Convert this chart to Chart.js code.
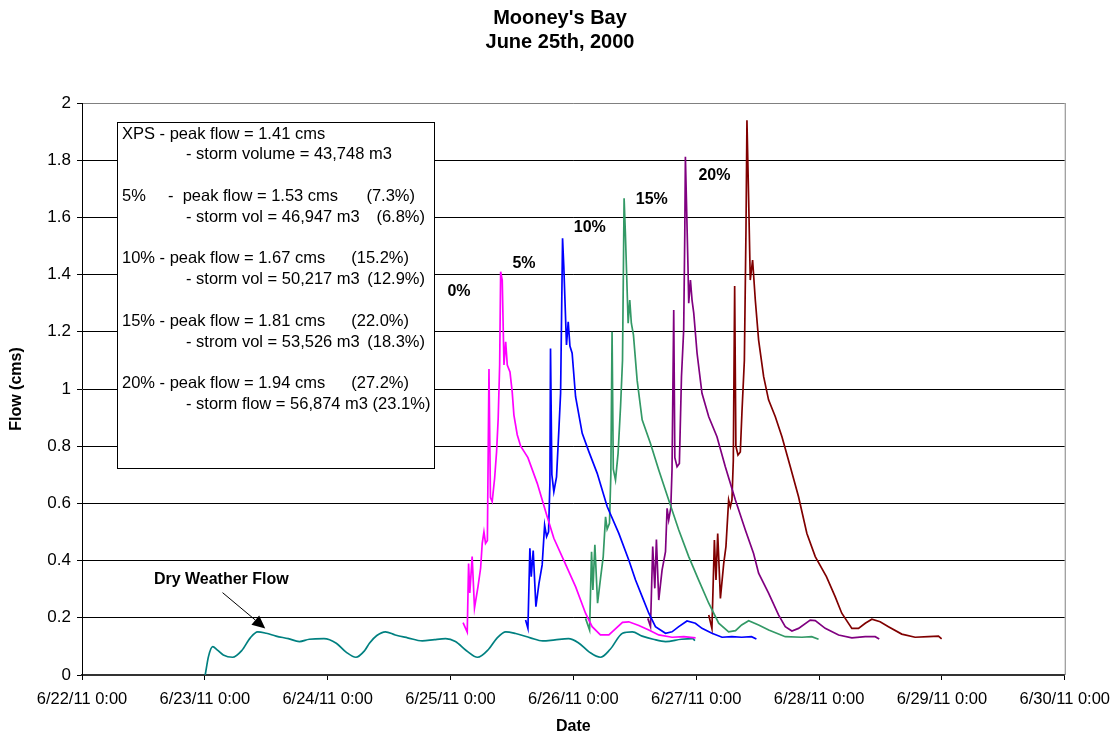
<!DOCTYPE html>
<html><head><meta charset="utf-8">
<script src="https://cdn.jsdelivr.net/npm/chart.js@4.4.1/dist/chart.umd.min.js"></script>
<style>html,body{margin:0;padding:0;background:#fff;}canvas{display:block;}</style>
</head><body>
<canvas id="c" width="1120" height="736"></canvas>
<script>
// ---- tick labels ----
const xTickLabels = ['6/22/11 0:00','6/23/11 0:00','6/24/11 0:00','6/25/11 0:00','6/26/11 0:00','6/27/11 0:00','6/28/11 0:00','6/29/11 0:00','6/30/11 0:00'];
const yTickLabels = ['0','0.2','0.4','0.6','0.8','1','1.2','1.4','1.6','1.8','2'];
const titleLines = ["Mooney's Bay", 'June 25th, 2000'];

// ---- series (time = days since 6/22/11 0:00, flow in cms) ----
const dwfTime = [1.003,1.03,1.064,1.10,1.15,1.226,1.30,1.37,1.43,1.50,1.58,1.68,1.77,1.85,1.97,2.07,2.15,2.23,2.30,2.34,2.40,2.47,2.55,2.65,2.77,2.87,2.96,3.04,3.13,3.22,3.31,3.38,3.45,3.53,3.65,3.75,3.85,3.96,4.04,4.13,4.22,4.30,4.40,4.48,4.56,4.65,4.75,4.88,4.97,4.99];
const dwfFlow = [0,0.065,0.099,0.088,0.07,0.062,0.085,0.13,0.151,0.146,0.136,0.127,0.117,0.125,0.127,0.111,0.08,0.062,0.085,0.111,0.138,0.151,0.14,0.13,0.119,0.124,0.127,0.117,0.085,0.062,0.09,0.13,0.151,0.145,0.13,0.119,0.123,0.127,0.113,0.08,0.062,0.09,0.146,0.151,0.136,0.125,0.117,0.125,0.127,0.12];

const xpsTime = [3.102,3.136,3.147,3.157,3.176,3.195,3.224,3.245,3.258,3.272,3.285,3.300,3.313,3.325,3.339,3.359,3.375,3.388,3.400,3.408,3.421,3.435,3.449,3.462,3.484,3.502,3.516,3.543,3.571,3.630,3.706,3.787,3.841,3.923,4.018,4.099,4.153,4.220,4.289,4.340,4.400,4.451,4.533,4.614,4.695,4.803,4.900,4.995];
const xpsFlow = [0.183,0.150,0.390,0.287,0.414,0.234,0.310,0.374,0.460,0.500,0.460,0.470,1.070,0.620,0.606,0.688,0.781,0.897,1.084,1.410,1.380,1.084,1.165,1.084,1.060,0.990,0.909,0.840,0.800,0.760,0.670,0.553,0.478,0.400,0.309,0.216,0.169,0.140,0.140,0.160,0.184,0.186,0.173,0.157,0.140,0.132,0.134,0.130];

const p5Time = [3.611,3.630,3.646,3.657,3.673,3.695,3.720,3.746,3.766,3.782,3.798,3.809,3.814,3.825,3.841,3.863,3.882,3.896,3.912,3.922,3.944,3.958,3.972,3.990,4.018,4.072,4.126,4.194,4.275,4.370,4.451,4.506,4.560,4.614,4.668,4.750,4.803,4.858,4.925,4.993,5.047,5.128,5.210,5.290,5.370,5.450,5.490];
const p5Flow = [0.192,0.163,0.443,0.344,0.435,0.239,0.320,0.385,0.524,0.484,0.501,0.670,1.142,0.700,0.641,0.693,0.857,0.985,1.527,1.430,1.154,1.235,1.150,1.125,0.973,0.845,0.781,0.705,0.589,0.495,0.402,0.332,0.274,0.216,0.169,0.146,0.151,0.169,0.189,0.181,0.163,0.146,0.132,0.134,0.132,0.134,0.126];

const p10Time = [4.099,4.132,4.148,4.159,4.175,4.197,4.221,4.243,4.262,4.275,4.294,4.305,4.315,4.325,4.343,4.364,4.384,4.400,4.413,4.423,4.446,4.459,4.472,4.489,4.519,4.560,4.627,4.695,4.776,4.858,4.939,5.020,5.102,5.183,5.264,5.320,5.370,5.427,5.508,5.590,5.725,5.860,5.940,5.996];
const p10Flow = [0.198,0.157,0.431,0.297,0.455,0.251,0.338,0.414,0.553,0.510,0.530,0.700,1.200,0.720,0.682,0.775,0.938,1.100,1.667,1.550,1.230,1.311,1.230,1.189,1.031,0.892,0.810,0.717,0.612,0.507,0.414,0.332,0.251,0.181,0.151,0.155,0.175,0.190,0.175,0.157,0.134,0.132,0.134,0.125];

const p15Time = [4.606,4.628,4.646,4.663,4.676,4.695,4.722,4.750,4.763,4.776,4.793,4.803,4.817,4.826,4.844,4.863,4.880,4.898,4.907,4.912,4.933,4.939,4.953,4.966,4.980,5.007,5.047,5.102,5.169,5.237,5.319,5.400,5.467,5.508,5.589,5.670,5.725,5.779,5.833,5.928,5.969,6.050,6.159,6.267,6.376,6.457,6.490];
const p15Flow = [0.198,0.169,0.449,0.303,0.474,0.262,0.367,0.431,0.583,0.542,0.583,0.717,1.276,0.760,0.728,0.740,1.043,1.206,1.544,1.812,1.428,1.300,1.381,1.311,1.265,1.125,0.985,0.903,0.833,0.728,0.612,0.507,0.425,0.356,0.286,0.210,0.169,0.154,0.163,0.192,0.190,0.163,0.140,0.130,0.134,0.134,0.126];

const p20Time = [5.102,5.128,5.148,5.161,5.175,5.197,5.224,5.242,5.264,5.278,5.291,5.302,5.313,5.323,5.340,5.359,5.372,5.392,5.405,5.413,5.427,5.440,5.459,5.481,5.508,5.549,5.589,5.644,5.698,5.766,5.833,5.901,5.969,6.060,6.131,6.185,6.267,6.321,6.376,6.430,6.497,6.565,6.673,6.782,6.890,6.972,6.998];
const p20Flow = [0.210,0.163,0.472,0.332,0.495,0.268,0.390,0.449,0.612,0.588,0.612,0.750,1.360,0.800,0.769,0.780,0.915,1.100,1.550,1.940,1.660,1.381,1.451,1.311,1.171,1.043,0.962,0.903,0.833,0.728,0.623,0.495,0.414,0.344,0.274,0.216,0.163,0.163,0.181,0.195,0.186,0.169,0.143,0.132,0.134,0.136,0.126];

// ---- annotation texts ----
const pctLabels = ['0%','5%','10%','15%','20%'];
const dwfLabel = 'Dry Weather Flow';
const boxText = [
  ['XPS - peak flow = 1.41 cms'],
  ['- storm volume = 43,748 m3'],
  ['5%','-  peak flow = 1.53 cms','(7.3%)'],
  ['- storm vol = 46,947 m3','(6.8%)'],
  ['10% - peak flow = 1.67 cms','(15.2%)'],
  ['- storm vol = 50,217 m3','(12.9%)'],
  ['15% - peak flow = 1.81 cms','(22.0%)'],
  ['- strom vol = 53,526 m3','(18.3%)'],
  ['20% - peak flow = 1.94 cms','(27.2%)'],
  ['- storm flow = 56,874 m3 (23.1%)']
];

// ---- layout / style (not data) ----
const FONT = '"Liberation Sans", Arial, sans-serif';
const pctAnchors = [[3.069,1.339],[3.598,1.44],[4.134,1.563],[4.638,1.661],[5.148,1.745]];
const boxRows = [0,1,3,4,6,7,9,10,12,13];
// [x, align] per segment; parentheticals are right-aligned
const boxSegPos = [
  [[122,'left']],
  [[186,'left']],
  [[122,'left'],[168,'left'],[415,'right']],
  [[186,'left'],[425,'right']],
  [[122,'left'],[409,'right']],
  [[186,'left'],[425,'right']],
  [[122,'left'],[409,'right']],
  [[186,'left'],[425,'right']],
  [[122,'left'],[409,'right']],
  [[186,'left']]
];

function pts(t, v){ return t.map((d,i)=>({x:d, y:v[i]})); }
function ds(label, t, v, color, smooth){
  return {label, data: pts(t,v), borderColor: color, backgroundColor: color, borderWidth: 1.7,
    pointRadius: 0, fill: false, tension: smooth ? 0.4 : 0, cubicInterpolationMode: smooth ? 'monotone' : 'default'};
}

const annotate = {
  id: 'annotate',
  afterDraw(chart){
    const {ctx, chartArea: a, scales: {x, y}} = chart;
    ctx.save();
    ctx.strokeStyle = '#808080'; ctx.lineWidth = 1;
    ctx.beginPath(); ctx.moveTo(a.right + 0.5, a.top); ctx.lineTo(a.right + 0.5, a.bottom); ctx.stroke();
    ctx.fillStyle = '#000'; ctx.textAlign = 'center'; ctx.textBaseline = 'middle';
    ctx.font = 'bold 20px ' + FONT;
    ctx.fillText(titleLines[0], 560, 18.5);
    ctx.fillText(titleLines[1], 560, 42);
    ctx.font = 'bold 16px ' + FONT;
    pctLabels.forEach((t, i) => ctx.fillText(t, x.getPixelForValue(pctAnchors[i][0]), y.getPixelForValue(pctAnchors[i][1])));
    ctx.fillText(dwfLabel, x.getPixelForValue(1.134), y.getPixelForValue(0.332));
    const sx = x.getPixelForValue(1.144), sy = y.getPixelForValue(0.288);
    const tx = x.getPixelForValue(1.492), ty = y.getPixelForValue(0.163);
    const ang = Math.atan2(ty - sy, tx - sx), L = 13, W = 6;
    const bx = tx - L * Math.cos(ang), by = ty - L * Math.sin(ang);
    ctx.strokeStyle = '#000'; ctx.lineWidth = 1;
    ctx.beginPath(); ctx.moveTo(sx, sy); ctx.lineTo(bx, by); ctx.stroke();
    ctx.beginPath(); ctx.moveTo(tx, ty);
    ctx.lineTo(bx + W * Math.sin(ang), by - W * Math.cos(ang));
    ctx.lineTo(bx - W * Math.sin(ang), by + W * Math.cos(ang));
    ctx.closePath(); ctx.fillStyle = '#000'; ctx.fill();
    // text box
    ctx.fillStyle = '#fff'; ctx.fillRect(117.5, 122.5, 317, 346);
    ctx.strokeStyle = '#000'; ctx.strokeRect(117.5, 122.5, 317, 346);
    ctx.fillStyle = '#000'; ctx.font = '16.5px ' + FONT;
    boxText.forEach((segs, r) => {
      const yy = 134 + boxRows[r] * 20.8;
      segs.forEach((s, k) => { ctx.textAlign = boxSegPos[r][k][1]; ctx.fillText(s, boxSegPos[r][k][0], yy); });
    });
    ctx.restore();
  }
};

new Chart(document.getElementById('c'), {
  type: 'line',
  data: { datasets: [
    ds('XPS (0%)', xpsTime, xpsFlow, '#FF00FF', false),
    ds('5%', p5Time, p5Flow, '#0000FF', false),
    ds('10%', p10Time, p10Flow, '#339966', false),
    ds('15%', p15Time, p15Flow, '#800080', false),
    ds('20%', p20Time, p20Flow, '#800000', false),
    ds('Dry Weather Flow', dwfTime, dwfFlow, '#008080', true)
  ]},
  options: {
    responsive: false, animation: false, devicePixelRatio: 1,
    layout: { padding: { top: 103, right: 54, left: 0, bottom: 0 } },
    plugins: { legend: { display: false }, tooltip: { enabled: false }, title: { display: false } },
    scales: {
      x: {
        type: 'linear', min: 0, max: 8,
        afterFit: s => { s.height = 61; },
        ticks: { stepSize: 1, autoSkip: false, maxRotation: 0, color: '#000', padding: 10,
          font: { family: FONT, size: 16.5 }, callback: (v, i) => xTickLabels[i] },
        grid: { drawOnChartArea: false, drawTicks: true, tickLength: 5, tickColor: '#000' },
        border: { color: '#333', width: 2 },
        title: { display: true, text: 'Date', color: '#000', font: { family: FONT, size: 16, weight: 'bold' }, padding: { top: 0, bottom: 0 } }
      },
      y: {
        min: 0, max: 2,
        afterFit: s => { s.width = 82; },
        ticks: { stepSize: 0.2, color: '#000', padding: 6, font: { family: FONT, size: 17 },
          callback: (v, i) => yTickLabels[i] },
        grid: { color: c => (c.tick && c.tick.value >= 1.999) ? '#808080' : '#000', lineWidth: 1, tickLength: 5, tickColor: '#000' },
        border: { color: '#000', width: 1 },
        title: { display: true, text: 'Flow (cms)', color: '#000', font: { family: FONT, size: 16, weight: 'bold' }, padding: { top: 7, bottom: 0 } }
      }
    }
  },
  plugins: [annotate]
});
</script>
</body></html>
